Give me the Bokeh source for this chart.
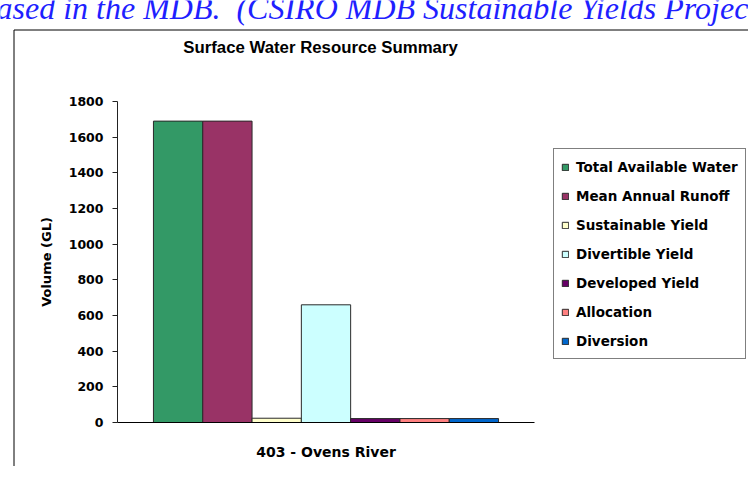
from bokeh.plotting import figure
from bokeh.models import Range1d, Label, BoxAnnotation, ColumnDataSource, FixedTicker, LinearAxis
from bokeh.transform import dodge
from bokeh.embed import file_html
from bokeh.resources import INLINE

# ---- data ----
categories = ["403 - Ovens River"]
series = ["Total Available Water", "Mean Annual Runoff", "Sustainable Yield",
          "Divertible Yield", "Developed Yield", "Allocation", "Diversion"]
values = [1690, 1690, 24, 660, 22, 22, 22]
colors = ["#339966", "#993366", "#FFFFCC", "#CCFFFF", "#660066", "#FF8080", "#0066CC"]
y_ticks = [0, 200, 400, 600, 800, 1000, 1200, 1400, 1600, 1800]
title_text = "Surface Water Resource Summary"
y_label = "Volume (GL)"
header_text = "ased in the MDB.\u00a0 (CSIRO MDB Sustainable Yields Project"

# ---- layout (canvas pixels) ----
W, H = 748, 466
PL, PR, PT, PB = 117, 534, 101, 422      # plot area
Y0, Y1 = 0, 1800
cat_x = [i + 0.5 for i in range(len(categories))]
XN = len(categories)

def dx(px):
    return (px - PL) / (PR - PL) * XN

def dy(py):
    return Y0 + (PB - py) / (PB - PT) * (Y1 - Y0)

p = figure(x_range=Range1d(dx(0), dx(W)), y_range=Range1d(dy(H), dy(0)),
           width=W, height=H, min_border=0, min_border_left=0, min_border_right=0,
           min_border_top=0, min_border_bottom=0,
           x_axis_location=None, y_axis_location=None,
           output_backend="svg", toolbar_location=None, title=None)
p.outline_line_color = None
p.xgrid.visible = False
p.ygrid.visible = False
p.background_fill_color = "white"
p.border_fill_color = "white"

# chart border
p.add_layout(BoxAnnotation(left=dx(13.5), right=dx(1000), top=dy(29.5), bottom=dy(900),
                           fill_alpha=0, fill_color=None, line_color="black", line_alpha=1,
                           line_width=1, level="underlay"))

bw = 49.3 / (PR - PL) * XN
n = len(series)
for i, (name, val, col) in enumerate(zip(series, values, colors)):
    src = ColumnDataSource(dict(x=cat_x, top=[val]))
    p.vbar(x=dodge("x", (i - (n - 1) / 2) * bw), top="top", width=bw,
           source=src, fill_color=col, line_color="#2a2a2a", line_width=1, legend_label=name)

FONT = "DejaVu Sans"

# y axis
ya = LinearAxis(fixed_location=0, bounds=(Y0, Y1), ticker=FixedTicker(ticks=y_ticks))
ya.minor_tick_line_color = None
ya.major_tick_out = 5
ya.major_tick_in = 0
ya.axis_line_color = "#222222"
ya.major_tick_line_color = "#222222"
ya.major_label_text_font = FONT
ya.major_label_text_font_style = "bold"
ya.major_label_text_font_size = "12.5px"
ya.major_label_text_color = "black"
ya.major_label_standoff = 9
ya.axis_label = y_label
ya.axis_label_text_font = FONT
ya.axis_label_text_font_style = "bold"
ya.axis_label_text_font_size = "13px"
ya.axis_label_text_color = "black"
ya.axis_label_standoff = 12
p.add_layout(ya, "left")

# x axis
xa = LinearAxis(fixed_location=Y0, bounds=(0, XN), ticker=FixedTicker(ticks=cat_x),
                major_label_overrides={x: c for x, c in zip(cat_x, categories)})
xa.minor_tick_line_color = None
xa.major_tick_line_color = None
xa.major_tick_out = 0
xa.major_tick_in = 0
xa.axis_line_color = "black"
xa.axis_line_width = 1.2
xa.major_label_text_font = FONT
xa.major_label_text_font_style = "bold"
xa.major_label_text_font_size = "14px"
xa.major_label_text_color = "black"
xa.major_label_standoff = 21
p.add_layout(xa, "below")

# legend
leg = p.legend[0]
leg.location = (553, H - 359)
leg.margin = 0
leg.padding = 7
leg.spacing = 8
leg.label_height = 21
leg.glyph_width = 8
leg.glyph_height = 8
leg.label_standoff = 7
leg.border_line_color = "black"
leg.border_line_width = 1
leg.background_fill_color = "white"
leg.background_fill_alpha = 1
leg.label_text_font = FONT
leg.label_text_font_style = "bold"
leg.label_text_font_size = "13.5px"
leg.label_text_color = "black"

# title
p.add_layout(Label(x=dx(320), y=dy(47), text=title_text, text_align="center",
                   text_baseline="middle", text_font="Liberation Sans", text_font_style="bold",
                   text_font_size="16.8px", text_color="black"))

# page header text (cut off at top)
p.add_layout(Label(x=dx(-4), y=dy(7), text=header_text, text_align="left",
                   text_baseline="middle", text_font="Liberation Serif",
                   text_font_style="italic", text_font_size="32px", text_color="#1f1fff"))

open("out.html", "w").write(file_html(p, INLINE))
